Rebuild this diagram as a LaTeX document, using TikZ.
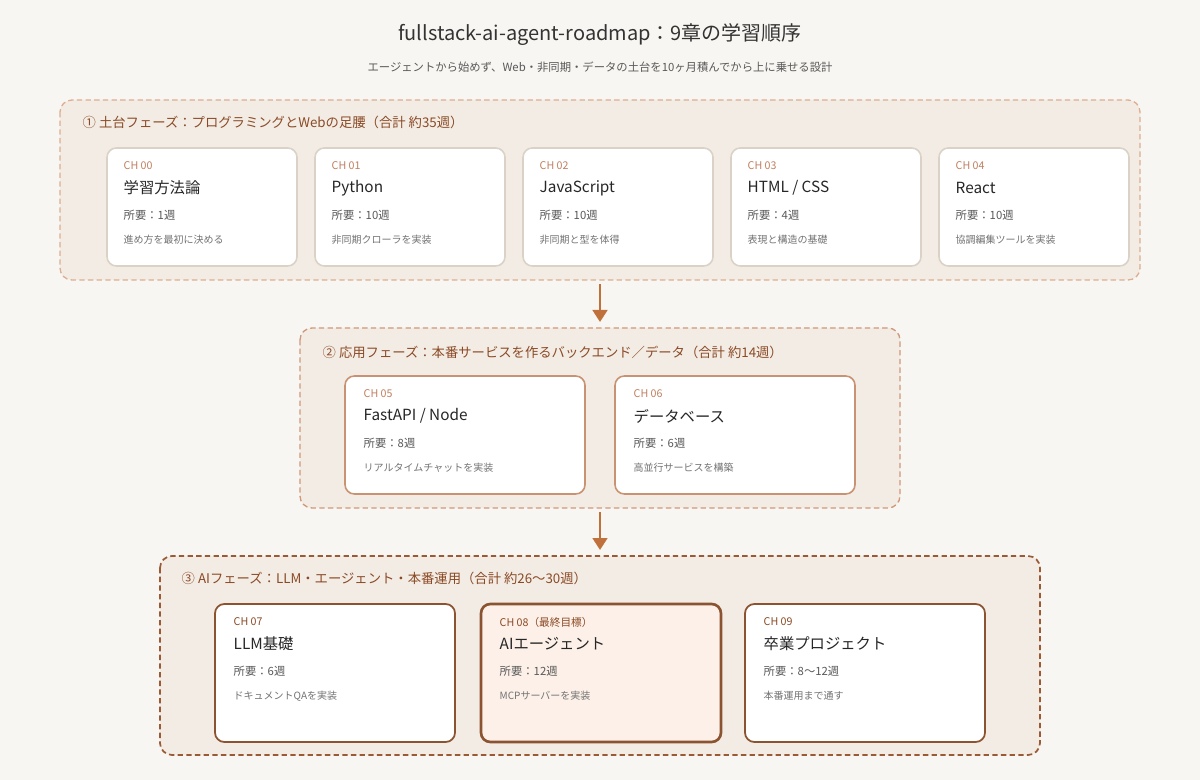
\documentclass[tikz,border=0pt]{standalone}
\usepackage{fontspec}
\setmainfont{Noto Sans CJK JP}
\usetikzlibrary{arrows.meta}
\definecolor{bg}{HTML}{F8F6F2}
\definecolor{phfill}{HTML}{F2ECE5}
\definecolor{phA}{HTML}{DDAE90}
\definecolor{phB}{HTML}{D09878}
\definecolor{phC}{HTML}{9A5A35}
\definecolor{lab}{HTML}{8B4A25}
\definecolor{chc}{HTML}{C08060}
\definecolor{cardA}{HTML}{DAD2C6}
\definecolor{cardB}{HTML}{C99373}
\definecolor{cardC}{HTML}{8B5330}
\definecolor{goal}{HTML}{FCF0E8}
\definecolor{arr}{HTML}{C0703A}
\tikzset{
 x=0.75pt,y=-0.75pt,
 phase/.style={draw, dashed, dash pattern=on 4pt off 2.5pt, fill=phfill, rounded corners=9pt, line width=1pt},
 card/.style={draw, fill=white, rounded corners=7pt, line width=1.2pt},
 chtxt/.style={anchor=west, text=chc, font=\fontsize{8}{9}\selectfont},
 tttxt/.style={anchor=west, text=black!85, font=\fontsize{11.5}{13}\selectfont},
 reqtxt/.style={anchor=west, text=black!65, font=\fontsize{8.5}{10}\selectfont},
 dsctxt/.style={anchor=west, text=black!55, font=\fontsize{7.5}{9}\selectfont},
 phlab/.style={anchor=west, text=lab, font=\fontsize{10}{12}\selectfont},
 flow/.style={-{Triangle[length=9pt,width=11pt]}, arr, line width=2pt},
}
\begin{document}
\begin{tikzpicture}
\fill[bg] (0,0) rectangle (1200,780);
\useasboundingbox (0,0) rectangle (1200,780);
\node[text=black!80, font=\fontsize{15}{18}\selectfont] (title) at (600,35) {fullstack-ai-agent-roadmap：9章の学習順序};
\node[text=black!65, font=\fontsize{8.5}{10}\selectfont] (sub) at (600,67) {エージェントから始めず、Web・非同期・データの土台を10ヶ月積んでから上に乗せる設計};
% phase 1
\draw[phase, draw=phA] (60,100) rectangle (1140,280);
\node[phlab] at (78,122) {① 土台フェーズ：プログラミングとWebの足腰（合計 約35週）};
\foreach \x/\c/\t/\r/\d in {107/CH 00/学習方法論/所要：1週/進め方を最初に決める,
 315/CH 01/Python/所要：10週/非同期クローラを実装,
 523/CH 02/JavaScript/所要：10週/非同期と型を体得,
 731/CH 03/{HTML / CSS}/所要：4週/表現と構造の基礎,
 939/CH 04/React/所要：10週/協調編集ツールを実装}{
 \draw[card, draw=cardA] (\x,148) rectangle (\x+190,266);
 \node[chtxt] at (\x+12,166) {\c};
 \node[tttxt] at (\x+12,188) {\t};
 \node[reqtxt] at (\x+12,215) {\r};
 \node[dsctxt] at (\x+12,240) {\d};
}
% phase 2
\draw[phase, draw=phB] (300,328) rectangle (900,508);
\node[phlab] at (318,352) {② 応用フェーズ：本番サービスを作るバックエンド／データ（合計 約14週）};
\foreach \x/\c/\t/\r/\d in {345/CH 05/{FastAPI / Node}/所要：8週/リアルタイムチャットを実装,
 615/CH 06/データベース/所要：6週/高並行サービスを構築}{
 \draw[card, draw=cardB] (\x,376) rectangle (\x+240,494);
 \node[chtxt] at (\x+14,394) {\c};
 \node[tttxt] at (\x+14,416) {\t};
 \node[reqtxt] at (\x+14,443) {\r};
 \node[dsctxt] at (\x+14,468) {\d};
}
% phase 3
\draw[phase, draw=phC, line width=1.3pt] (160,556) rectangle (1040,755);
\node[phlab] at (177,578) {③ AIフェーズ：LLM・エージェント・本番運用（合計 約26〜30週）};
\foreach \x/\c/\t/\r/\d/\f/\w in {215/CH 07/LLM基礎/所要：6週/ドキュメントQAを実装/white/1.3pt,
 481/CH 08（最終目標）/AIエージェント/所要：12週/MCPサーバーを実装/goal/2pt,
 745/CH 09/卒業プロジェクト/所要：8〜12週/本番運用まで通す/white/1.3pt}{
 \draw[card, draw=cardC, fill=\f, line width=\w] (\x,604) rectangle (\x+240,742);
 \node[chtxt, text=lab] at (\x+14,622) {\c};
 \node[tttxt] at (\x+14,644) {\t};
 \node[reqtxt] at (\x+14,671) {\r};
 \node[dsctxt] at (\x+14,696) {\d};
}
% arrows
\coordinate (a1s) at (600,284); \coordinate (a1e) at (600,322);
\coordinate (a2s) at (600,512); \coordinate (a2e) at (600,550);
\draw[flow] (a1s) -- (a1e);
\draw[flow] (a2s) -- (a2e);
\end{tikzpicture}
\end{document}
